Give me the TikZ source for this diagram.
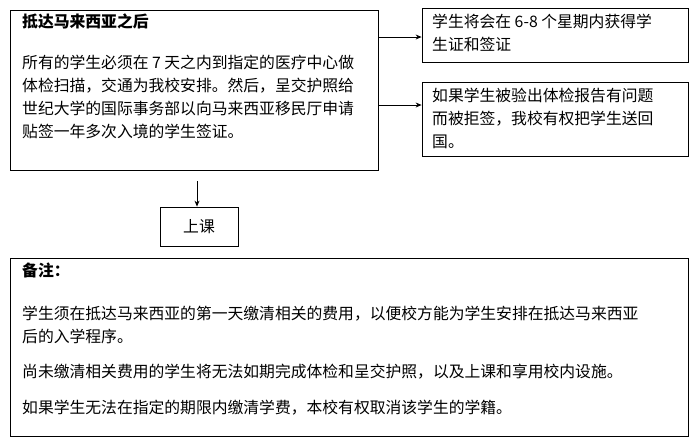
\documentclass[tikz,border=0pt]{standalone}
\usepackage{fontspec}
\newfontfamily\cjk{Noto Sans CJK SC}
\usetikzlibrary{arrows.meta}
\begin{document}
\begin{tikzpicture}[x=1pt,y=-1pt,
  box/.style={draw,line width=0.8pt},
  txt/.style={anchor=north west,align=left,inner sep=0pt,font=\cjk\fontsize{15.8pt}{23pt}\selectfont},
  arr/.style={-{Stealth[length=6pt,width=5pt]},line width=0.8pt}]
\useasboundingbox (0,0) rectangle (700,445);
\draw[box] (10,10) rectangle (378,170);
\coordinate (m1) at (378,37);
\coordinate (m2) at (378,105);
\coordinate (m3) at (197,181);
\node[txt] (t1) at (22,14) {\textbf{抵达马来西亚之后}};
\node[txt] (t2) at (22,55) {所有的学生必须在 7 天之内到指定的医疗中心做\\体检扫描，交通为我校安排。然后，呈交护照给\\世纪大学的国际事务部以向马来西亚移民厅申请\\贴签一年多次入境的学生签证。};
\node[box,minimum width=266pt,minimum height=54pt,inner sep=0pt] (r1) at (555,35) {};
\node[txt] at (432,14) {学生将会在 6-8 个星期内获得学\\生证和签证};
\node[box,minimum width=266pt,minimum height=74pt,inner sep=0pt] (r2) at (555,119) {};
\node[txt] at (432,88) {如果学生被验出体检报告有问题\\而被拒签，我校有权把学生送回\\国。};
\node[box,minimum width=78pt,minimum height=39pt,inner sep=0pt,font=\cjk\fontsize{15.8pt}{16pt}\selectfont] (sk) at (199,226.5) {上课};
\draw[arr] (m1) -- (r1.west|-m1);
\draw[arr] (m2) -- (r2.west|-m2);
\draw[arr] (m3) -- (sk.north-|m3);
\draw[box] (10,258) rectangle (688,436);
\node[txt] at (22,263) {\textbf{备注：}};
\node[txt] at (22,306) {学生须在抵达马来西亚的第一天缴清相关的费用，以便校方能为学生安排在抵达马来西亚\\后的入学程序。};
\node[txt] at (22,364) {尚未缴清相关费用的学生将无法如期完成体检和呈交护照，以及上课和享用校内设施。};
\node[txt] at (22,400) {如果学生无法在指定的期限内缴清学费，本校有权取消该学生的学籍。};
\end{tikzpicture}
\end{document}
